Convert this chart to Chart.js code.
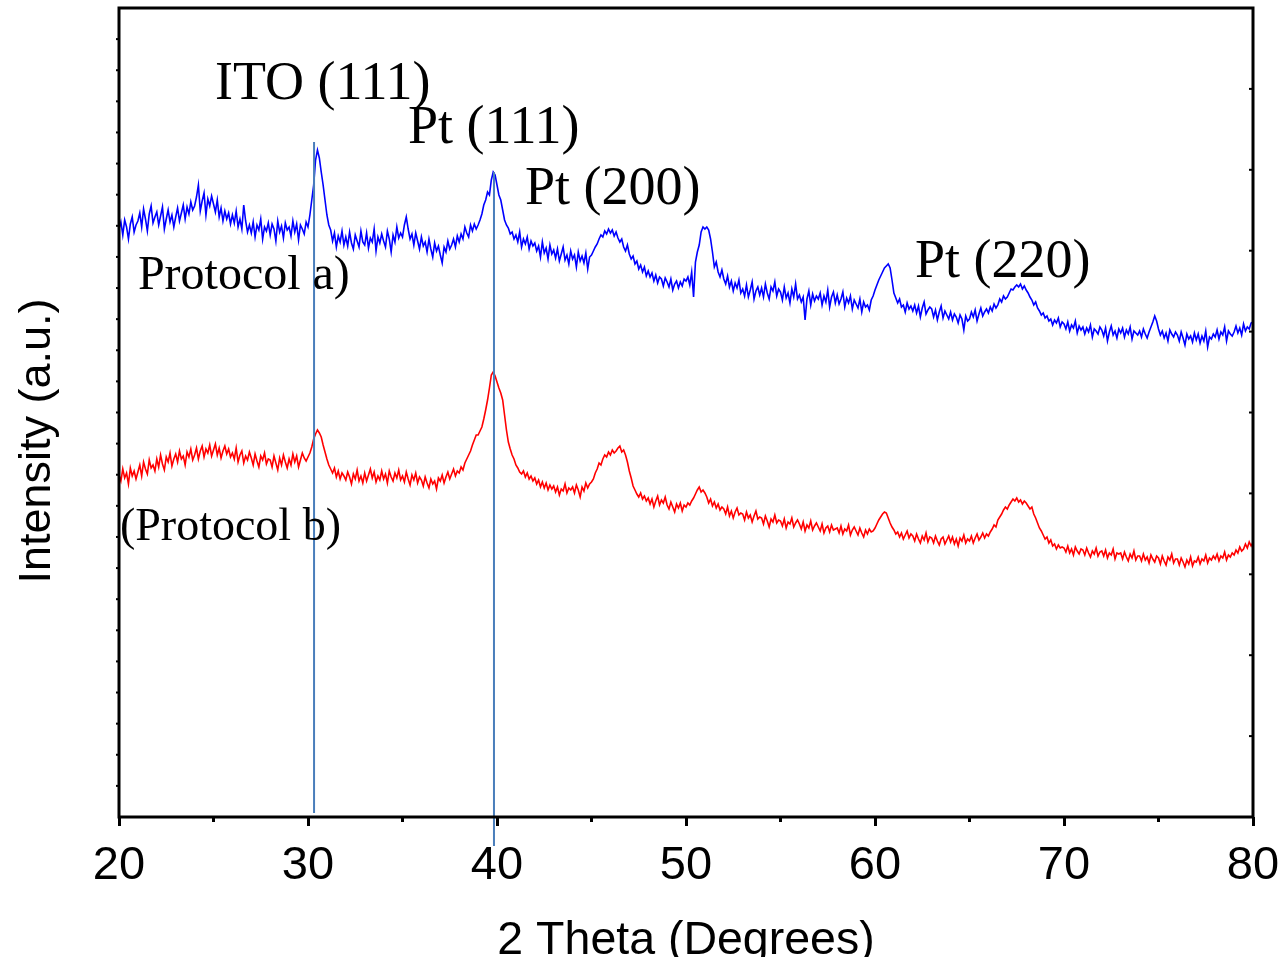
<!DOCTYPE html>
<html>
<head>
<meta charset="utf-8">
<script src="https://cdn.jsdelivr.net/npm/chart.js@4.4.1/dist/chart.umd.min.js"></script>
<style>
html,body{margin:0;padding:0;background:#fff;}
canvas{display:block;}
</style>
</head>
<body>
<canvas id="c" width="1281" height="957" style="width:1281px;height:957px"></canvas>
<script>
// 2-theta grid: 20.0 .. 80.0 in 0.1 degree steps
const thetaStart = 20;
const thetaStep = 0.1;

// Protocol a) intensity (a.u.), one value per 0.1 deg
const protocolA = [
588,595,582,597,590,578,593,600,585,592,
596,604,590,608,598,586,603,611,594,600,
605,592,601,610,588,598,607,595,602,590,
600,609,596,604,612,598,610,603,615,607,
611,620,632,606,616,624,602,618,611,621,
613,605,617,600,609,596,606,598,604,593,
602,594,606,590,598,588,612,596,585,592,
584,595,580,592,587,598,578,590,586,594,
582,593,588,576,596,585,591,579,594,587,
590,581,596,585,593,577,592,588,583,595,
590,602,617,632,657,667,659,645,632,617,
602,592,587,576,584,570,581,575,586,572,
580,571,585,574,568,582,576,570,586,575,
572,584,569,579,575,588,566,580,574,583,
576,570,586,578,565,582,575,590,579,584,
580,592,600,588,578,583,572,584,576,568,
580,571,575,565,578,568,560,574,566,571,
562,554,570,565,576,568,572,578,570,581,
575,583,578,590,584,580,592,586,593,588,
592,597,603,612,617,625,622,637,645,642,
632,622,617,607,597,592,589,583,585,578,
582,575,585,570,578,573,580,568,576,571,
574,566,571,560,575,564,569,558,572,563,
567,559,568,556,563,570,557,562,553,566,
558,562,550,565,556,561,554,564,548,560,
562,566,570,573,578,582,580,586,583,588,
584,587,581,585,579,575,578,570,566,572,
563,558,561,553,556,548,552,545,550,541,
546,540,544,536,542,534,540,538,531,539,
535,530,538,527,533,536,529,535,531,538,
536,540,532,545,520,555,565,572,585,590,
588,590,587,578,565,550,555,545,540,547,
538,533,541,530,536,526,534,529,537,524,
528,521,532,520,527,535,518,526,530,522,
529,520,533,524,518,530,526,535,521,528,
525,517,530,519,524,514,528,520,533,518,
522,515,520,497,518,526,512,523,516,521,
518,524,512,521,515,527,510,520,525,514,
522,513,518,525,510,519,514,521,508,517,
513,509,518,505,515,510,512,507,517,521,
527,532,537,541,545,549,551,553,549,537,
524,519,514,518,510,512,505,514,508,511,
506,512,504,511,500,509,515,503,507,510,
508,500,507,497,505,511,499,506,502,498,
505,497,503,500,494,502,498,487,501,496,
498,505,500,507,496,503,509,501,505,508,
504,510,506,513,509,512,518,515,521,518,
520,524,528,527,530,532,530,533,528,531,
527,524,520,517,512,515,509,506,502,504,
499,501,496,498,492,497,494,499,490,495,
493,488,495,486,492,489,496,484,491,487,
490,483,489,485,492,480,488,486,483,490,
487,481,489,476,485,491,482,486,479,488,
484,489,480,487,483,490,478,486,484,482,
486,480,488,483,479,485,490,495,501,496,
488,482,486,479,484,476,487,483,480,485,
482,476,485,479,472,483,478,481,475,484,
477,483,474,481,476,486,470,480,478,483,
480,487,478,485,482,490,476,486,483,481,
485,491,484,489,482,493,486,490,488,494,
495
];

// Protocol b) intensity (a.u.), one value per 0.1 deg
const protocolB = [
342,336,348,339,344,333,349,341,346,338,
345,352,341,355,348,343,357,349,352,346,
358,350,362,353,347,360,355,364,351,358,
363,355,366,358,361,352,365,360,368,357,
362,369,358,366,371,360,368,364,372,361,
367,373,362,369,359,366,371,363,368,360,
364,358,369,355,362,366,354,361,357,365,
359,352,363,356,350,361,357,364,353,358,
357,350,361,354,347,359,352,362,355,349,
358,352,363,355,361,350,357,364,359,356,
360,364,370,378,383,387,384,380,372,365,
358,352,348,344,349,340,346,338,344,341,
337,345,340,333,343,338,347,336,341,334,
344,336,342,348,339,345,335,341,337,346,
338,343,334,346,340,336,344,339,347,337,
341,335,345,338,332,342,337,344,334,340,
337,331,340,334,329,338,333,336,328,339,
336,342,334,340,345,338,343,348,341,346,
344,350,347,354,358,362,366,372,377,382,
382,386,390,398,407,417,429,442,445,441,
435,429,424,417,402,387,375,368,362,358,
352,349,345,343,346,340,344,338,341,336,
339,333,337,330,335,329,334,327,332,328,
331,325,330,322,328,326,333,324,329,327,
330,324,332,327,320,330,326,334,329,333,
335,338,344,348,354,352,358,362,360,365,
362,367,364,366,369,371,365,367,362,355,
346,339,331,327,323,320,324,318,321,316,
319,313,318,310,316,321,312,317,314,320,
312,308,315,310,305,313,309,314,306,312,
310,314,312,316,319,323,327,330,325,327,
324,320,314,318,311,315,309,313,307,310,
308,303,310,301,306,299,305,309,302,304,
303,297,305,299,302,295,301,306,298,300,
299,293,301,296,290,298,295,302,294,297,
296,291,298,289,295,293,299,290,294,297,
293,288,295,286,292,289,296,287,291,294,
290,286,293,284,289,291,285,292,287,288,
289,284,291,283,288,286,292,282,287,290,
286,282,289,284,280,287,283,288,285,286,
289,293,297,300,303,305,304,299,294,290,
287,283,285,280,284,278,282,286,279,283,
281,276,283,278,274,281,277,284,275,280,
279,274,281,276,272,278,280,273,277,281,
275,280,273,278,271,279,276,282,274,278,
276,281,274,279,283,277,280,284,279,283,
281,285,288,292,290,297,300,303,307,310,
308,312,315,318,316,319,315,317,313,316,
314,311,308,310,303,299,294,289,286,282,
278,280,274,277,271,273,268,272,269,270,
269,265,271,264,268,262,270,266,263,268,
267,262,269,264,260,266,263,269,261,265,
266,261,267,259,264,262,268,258,264,263,
264,258,265,260,256,263,259,266,257,261,
261,256,263,257,260,254,262,258,255,261,
259,253,261,256,252,260,257,263,254,258,
258,252,259,255,250,257,253,260,251,256,
255,260,253,258,256,262,254,259,257,261,
258,263,256,261,259,265,257,262,260,264,
262,267,264,270,266,268,273,269,275,271,
275
];

// Reference lines (2-theta positions) and their vertical extents (intensity units)
const refLineTheta = [30.32, 39.84];
const refLineLow = [4, -29];
const refLineHigh = [675, 645];

// Annotation texts and anchors (2-theta, intensity)
const peakLabels = ['ITO (111)', 'Pt (111)', 'Pt (200)', 'Pt (220)'];
const peakLabelTheta = [25.08, 35.29, 41.48, 62.12];
const peakLabelY = [718, 674, 613, 540];
const seriesLabels = ['Protocol a)', '(Protocol b)'];
const seriesLabelTheta = [21.0, 20.05];
const seriesLabelY = [528, 277];

const xTicks = [20, 30, 40, 50, 60, 70, 80];
const xTitle = '2 Theta (Degrees)';
const yTitle = 'Intensity (a.u.)';

function toPoints(arr) {
  return arr.map((v, i) => ({ x: +(thetaStart + i * thetaStep).toFixed(2), y: v }));
}

const refDatasets = refLineTheta.map((t, i) => ({
  label: 'ref' + i,
  data: [{ x: t, y: refLineLow[i] }, { x: t, y: refLineHigh[i] }],
  borderColor: '#4a7ebb',
  borderWidth: 2,
  pointRadius: 0,
  clip: false,
  order: 0
}));

const framePlugin = {
  id: 'frame',
  afterDraw(chart) {
    const ctx = chart.ctx;
    const a = chart.chartArea;
    const xs = chart.scales.x, ys = chart.scales.y;
    ctx.save();
    ctx.strokeStyle = '#000';
    ctx.lineWidth = 3;
    ctx.strokeRect(a.left, a.top, a.right - a.left, a.bottom - a.top);
    // minor x ticks
    for (let v = 25; v < 80; v += 10) {
      const px = xs.getPixelForValue(v);
      ctx.beginPath(); ctx.moveTo(px, a.bottom); ctx.lineTo(px, a.bottom + 5); ctx.stroke();
    }
    // left outward ticks
    ctx.lineWidth = 2;
    const nL = 26;
    for (let i = 1; i < nL; i++) {
      const py = ys.getPixelForValue(ys.min + (ys.max - ys.min) * i / nL);
      ctx.beginPath(); ctx.moveTo(a.left - 3, py); ctx.lineTo(a.left, py); ctx.stroke();
    }
    // right inward ticks
    const nR = 10;
    for (let i = 1; i < nR; i++) {
      const py = ys.getPixelForValue(ys.min + (ys.max - ys.min) * i / nR);
      ctx.beginPath(); ctx.moveTo(a.right - 4, py); ctx.lineTo(a.right, py); ctx.stroke();
    }
    // annotations
    ctx.fillStyle = '#000';
    ctx.textAlign = 'left';
    ctx.textBaseline = 'alphabetic';
    ctx.font = '54px "Liberation Serif", "Times New Roman", serif';
    peakLabels.forEach((t, i) => {
      ctx.fillText(t, xs.getPixelForValue(peakLabelTheta[i]), ys.getPixelForValue(peakLabelY[i]));
    });
    const seriesFont = [48, 46];
    seriesLabels.forEach((t, i) => {
      ctx.font = seriesFont[i] + 'px "Liberation Serif", "Times New Roman", serif';
      ctx.fillText(t, xs.getPixelForValue(seriesLabelTheta[i]), ys.getPixelForValue(seriesLabelY[i]));
    });
    // axis titles
    ctx.font = '46.5px "Liberation Sans", Arial, sans-serif';
    ctx.textAlign = 'center';
    ctx.fillText(xTitle, (a.left + a.right) / 2, 954);
    ctx.translate(50, 441);
    ctx.rotate(-Math.PI / 2);
    ctx.font = '45px "Liberation Sans", Arial, sans-serif';
    ctx.fillText(yTitle, 0, 0);
    ctx.restore();
  }
};

new Chart(document.getElementById('c'), {
  type: 'line',
  data: {
    datasets: [
      { label: 'Protocol a)', data: toPoints(protocolA), borderColor: '#0000ff', borderWidth: 1.6, pointRadius: 0, tension: 0, order: 1 },
      { label: 'Protocol b)', data: toPoints(protocolB), borderColor: '#ff0000', borderWidth: 1.6, pointRadius: 0, tension: 0, order: 1 },
      ...refDatasets
    ]
  },
  options: {
    responsive: false,
    animation: false,
    devicePixelRatio: 1,
    layout: { padding: { top: 8, right: 28, left: 0, bottom: 0 } },
    plugins: { legend: { display: false }, tooltip: { enabled: false } },
    scales: {
      x: {
        type: 'linear',
        min: 20, max: 80,
        afterBuildTicks(scale) { scale.ticks = xTicks.map(v => ({ value: v })); },
        afterFit(scale) { scale.height = 140; scale.paddingLeft = 0; scale.paddingRight = 0; },
        border: { display: false },
        grid: { display: true, drawOnChartArea: false, drawTicks: true, tickLength: 9, tickWidth: 3, tickColor: '#000' },
        ticks: {
          color: '#000',
          padding: 12,
          maxRotation: 0,
          font: { family: '"Liberation Sans", Arial, sans-serif', size: 47 },
          callback: v => String(v)
        }
      },
      y: {
        type: 'linear',
        min: 0, max: 809,
        afterFit(scale) { scale.width = 119; scale.paddingTop = 0; scale.paddingBottom = 0; },
        border: { display: false },
        grid: { display: false },
        ticks: { display: false }
      }
    }
  },
  plugins: [framePlugin]
});
</script>
</body>
</html>
